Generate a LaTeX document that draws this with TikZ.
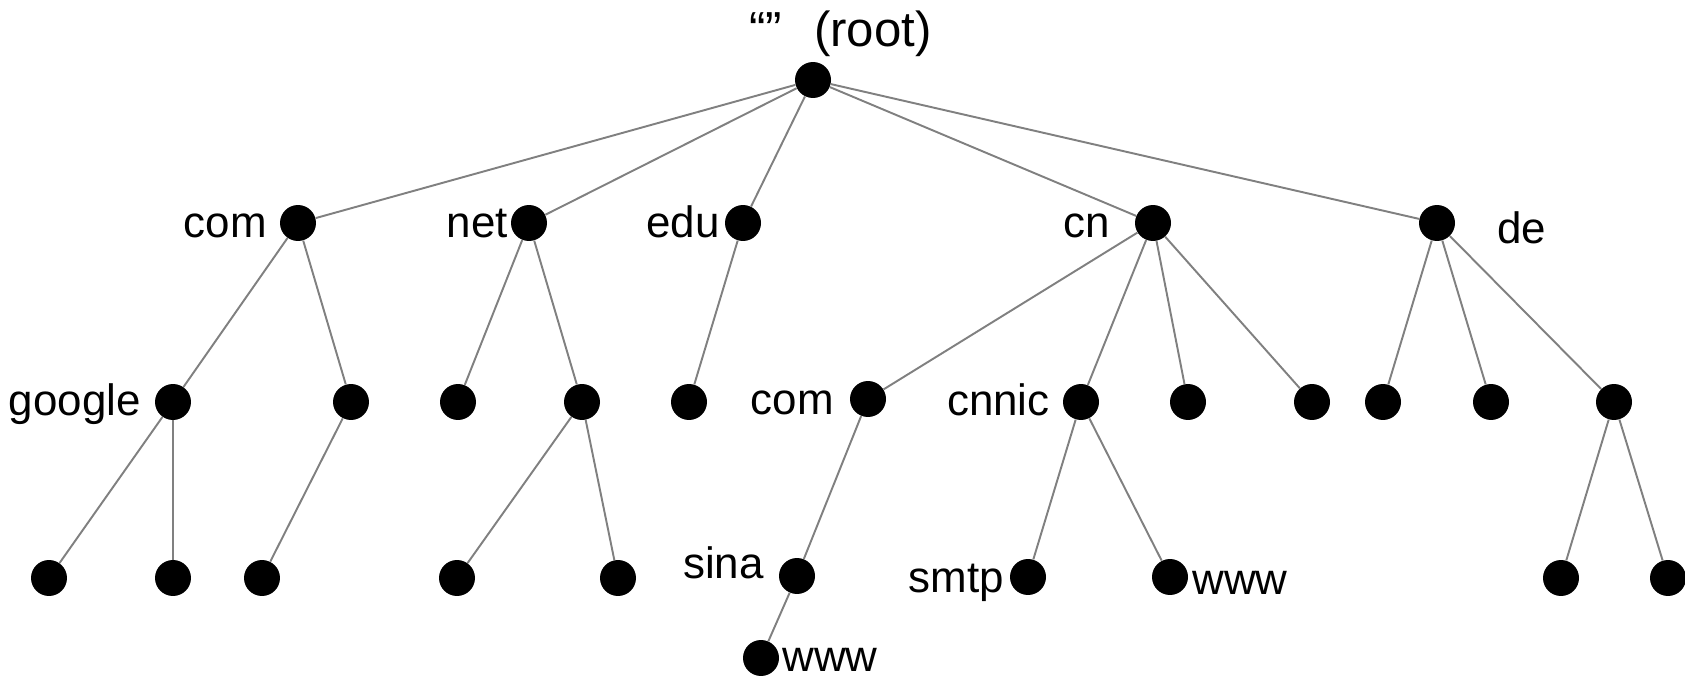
\documentclass[tikz,border=0pt]{standalone}
\usepackage{fontspec}
\setmainfont{Liberation Sans}
\usepackage{tikz}

\begin{document}
\begin{tikzpicture}[x=0.02cm, y=-0.02cm,
		dot/.style={circle, fill=black, inner sep=0pt, minimum size=0.72cm},
		lbl/.style={inner sep=0pt, font=\fontsize{25}{30}\selectfont},
		edge/.style={draw=black!50, line width=1.1pt}]
			\useasboundingbox (0,0) rectangle (1685,682);
			% levels 0 and 1
			\node[dot] at (813,80) (root){};
			\node[dot] at (298,223) (com){};
			\node[dot] at (529,223) (net){};
			\node[dot] at (743,223) (edu){};
			\node[dot] at (1153,223) (cn){};
			\node[dot] at (1437,223) (de){};
			% level 2
			\node[dot] at (173,402) (google){};
			\node[dot] at (351,402) (comb){};
			\node[dot] at (458,402) (neta){};
			\node[dot] at (582,402) (netb){};
			\node[dot] at (689,402) (edua){};
			\node[dot] at (868,399) (cncom){};
			\node[dot] at (1081,402) (cnnic){};
			\node[dot] at (1188,402) (cnc){};
			\node[dot] at (1312,402) (cnd){};
			\node[dot] at (1383,402) (dea){};
			\node[dot] at (1491,402) (deb){};
			\node[dot] at (1614,402) (dec){};
			% level 3 and 4
			\node[dot] at (49,578) (googlea){};
			\node[dot] at (173,578) (googleb){};
			\node[dot] at (262,578) (comba){};
			\node[dot] at (457,578) (netba){};
			\node[dot] at (618,578) (netbb){};
			\node[dot] at (797,576) (sina){};
			\node[dot] at (1028,577) (smtp){};
			\node[dot] at (1170,577) (cnwww){};
			\node[dot] at (1561,578) (deca){};
			\node[dot] at (1668,578) (decb){};
			\node[dot] at (761,658) (sinawww){};
			% labels
			\node[lbl, anchor=base east, font=\fontsize{28}{33}\selectfont] at (932,47) (rootlbl){“”\hspace{0.65em}(root)};
			\node[lbl, anchor=mid east] at (267,233) (comlbl){com};
			\node[lbl, anchor=mid east] at (508,233) (netlbl){net};
			\node[lbl, anchor=mid east] at (720,233) (edulbl){edu};
			\node[lbl, anchor=mid east] at (1110,233) (cnlbl){cn};
			\node[lbl, anchor=mid west] at (1497,239) (delbl){de};
			\node[lbl, anchor=mid east] at (141,411) (googlelbl){google};
			\node[lbl, anchor=mid east] at (834,410) (cncomlbl){com};
			\node[lbl, anchor=mid east] at (1050,411) (cnniclbl){cnnic};
			\node[lbl, anchor=mid east] at (764,574) (sinalbl){sina};
			\node[lbl, anchor=mid east] at (1004,588) (smtplbl){smtp};
			\node[lbl, anchor=mid west] at (1192,590) (cnwwwlbl){www};
			\node[lbl, anchor=mid west] at (782,667) (sinawwwlbl){www};
			% connectors
			\foreach \c in {com,net,edu,cn,de}
				\draw[edge] (root) -- (\c);
			\draw[edge] (com) -- (google);
			\draw[edge] (com) -- (comb);
			\draw[edge] (net) -- (neta);
			\draw[edge] (net) -- (netb);
			\draw[edge] (edu) -- (edua);
			\foreach \c in {cncom,cnnic,cnc,cnd}
				\draw[edge] (cn) -- (\c);
			\foreach \c in {dea,deb,dec}
				\draw[edge] (de) -- (\c);
			\draw[edge] (google) -- (googlea);
			\draw[edge] (google) -- (googleb);
			\draw[edge] (comb) -- (comba);
			\draw[edge] (netb) -- (netba);
			\draw[edge] (netb) -- (netbb);
			\draw[edge] (cncom) -- (sina);
			\draw[edge] (cnnic) -- (smtp);
			\draw[edge] (cnnic) -- (cnwww);
			\draw[edge] (dec) -- (deca);
			\draw[edge] (dec) -- (decb);
			\draw[edge] (sina) -- (sinawww);
		\end{tikzpicture}
\end{document}
